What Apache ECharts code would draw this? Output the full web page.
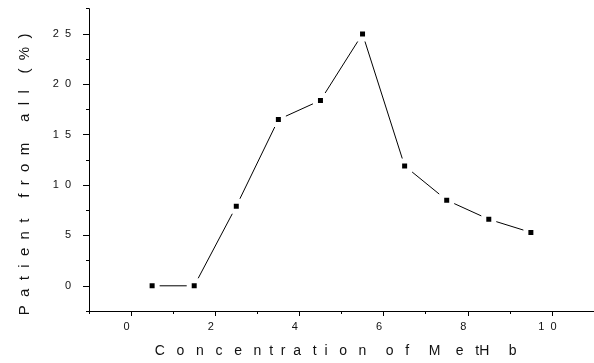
<!DOCTYPE html>
<html>
<head>
<meta charset="utf-8">
<script src="https://cdn.jsdelivr.net/npm/echarts@6/dist/echarts.min.js"></script>
<style>
html,body{margin:0;padding:0;background:#fff;}
#chart{width:594px;height:363px;}
</style>
</head>
<body>
<div id="chart"></div>
<script>
// Data
const concentration = [0.5, 1.5, 2.5, 3.5, 4.5, 5.5, 6.5, 7.5, 8.5, 9.5];
const patientPercent = [0, 0, 7.9, 16.5, 18.4, 25, 11.9, 8.5, 6.6, 5.3];
const xTickLabels = [0, 2, 4, 6, 8, 10];
const xMinorTicks = [-1, 1, 3, 5, 7, 9, 11];
const yTickLabels = [0, 5, 10, 15, 20, 25];
const yMinorTicks = [-2.5, 2.5, 7.5, 12.5, 17.5, 22.5, 27.5];

function sp(n) { return ' '.repeat(n); }
const xTitle = 'C' + sp(3) + 'o' + sp(3) + 'n' + sp(3) + 'c' + sp(3) + 'e' + sp(3) + 'n' + sp(2) + 't' + sp(2) + 'r' + sp(2) + 'a' + sp(3) + 't' + sp(2) + 'i' + sp(3) + 'o' + sp(3) + 'n' + sp(5) + 'o' + sp(3) + 'f' + sp(5) + 'M' + sp(4) + 'e' + sp(3) + 'tH' + sp(5) + 'b' + sp(3);
const yTitle = 'P' + sp(2) + 'a' + sp(2) + 't' + sp(2) + 'i' + sp(2) + 'e' + sp(2) + 'n' + sp(2) + 't' + sp(5) + 'f' + sp(2) + 'r' + sp(2) + 'o' + sp(2) + 'm' + sp(5) + 'a' + sp(2) + 'l' + sp(2) + 'l' + sp(4) + '(' + sp(2) + '%' + sp(2) + ')' + sp(7);

function spacedDigits(v) { return String(v).split('').join('  '); }

const font = '"Liberation Sans", Arial, sans-serif';
const chart = echarts.init(document.getElementById('chart'), null, {renderer: 'canvas'});
const option = {
  animation: false,
  backgroundColor: '#fff',
  grid: {left: 89, top: 8.7, width: 509.6, height: 303.9, containLabel: false},
  xAxis: [{
    type: 'value', min: -1, max: 11, interval: 1,
    position: 'bottom',
    axisLine: {show: true, onZero: false, lineStyle: {color: '#000', width: 1}},
    axisTick: {show: true, length: 5, customValues: xTickLabels, lineStyle: {color: '#000'}},
    axisLabel: {show: true, customValues: xTickLabels, margin: 10, padding: [0, 9, 0, 0],
      fontFamily: font, fontSize: 11, color: '#111', formatter: v => spacedDigits(v)},
    splitLine: {show: false},
    name: xTitle, nameLocation: 'middle', nameGap: 33,
    nameTextStyle: {fontFamily: font, fontSize: 14, color: '#111'}
  }, {
    type: 'value', min: -1, max: 11, interval: 1,
    position: 'bottom',
    axisLine: {show: false, onZero: false},
    axisTick: {show: true, length: 3, customValues: xMinorTicks, lineStyle: {color: '#000'}},
    axisLabel: {show: false},
    splitLine: {show: false}
  }],
  yAxis: [{
    type: 'value', min: -2.5, max: 27.5, interval: 2.5,
    position: 'left',
    axisLine: {show: true, onZero: false, lineStyle: {color: '#000', width: 1}},
    axisTick: {show: true, length: 6, customValues: yTickLabels, lineStyle: {color: '#000'}},
    axisLabel: {show: true, customValues: yTickLabels, margin: 18,
      fontFamily: font, fontSize: 11, color: '#111', formatter: v => spacedDigits(v)},
    splitLine: {show: false},
    name: yTitle, nameLocation: 'middle', nameGap: 57,
    nameTextStyle: {fontFamily: font, fontSize: 15, color: '#111'}
  }, {
    type: 'value', min: -2.5, max: 27.5, interval: 2.5,
    position: 'left',
    axisLine: {show: false, onZero: false},
    axisTick: {show: true, length: 3, customValues: yMinorTicks, lineStyle: {color: '#000'}},
    axisLabel: {show: false},
    splitLine: {show: false}
  }],
  series: [{
    type: 'line',
    xAxisIndex: 0, yAxisIndex: 0,
    data: concentration.map((x, i) => [x, patientPercent[i]]),
    symbol: 'rect', symbolSize: 10,
    lineStyle: {color: '#000', width: 1},
    itemStyle: {color: '#000', borderColor: '#fff', borderWidth: 5},
    emphasis: {disabled: true}
  }]
};
chart.setOption(option);
</script>
</body>
</html>
